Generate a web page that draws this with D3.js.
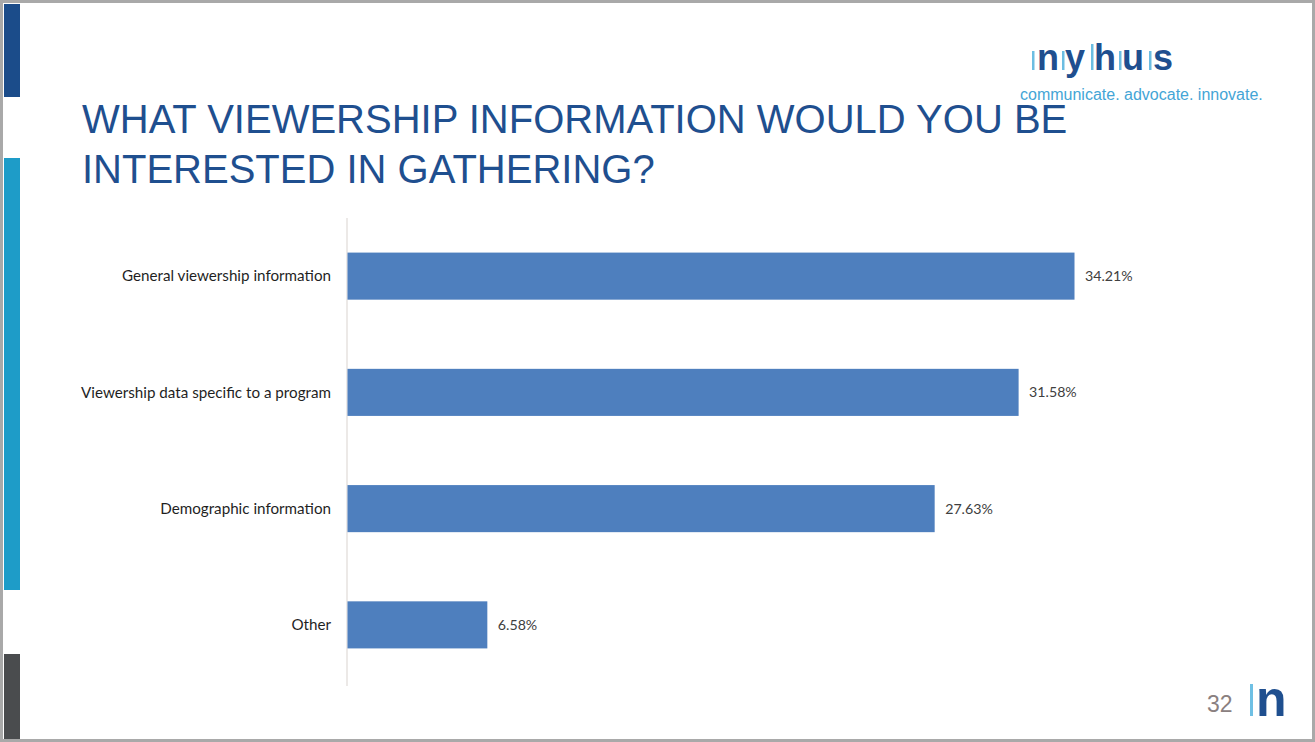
<!DOCTYPE html>
<html><head><meta charset="utf-8">
<script src="https://cdn.jsdelivr.net/npm/d3@7"></script>
<style>html,body{margin:0;padding:0;background:#fff;}svg{display:block;}</style>
</head><body>
<script>
const categories = ["General viewership information","Viewership data specific to a program","Demographic information","Other"];
const values = [34.21, 31.58, 27.63, 6.58];
const valueLabels = ["34.21%","31.58%","27.63%","6.58%"];
const titleLines = ["WHAT VIEWERSHIP INFORMATION WOULD YOU BE","INTERESTED IN GATHERING?"];

const W = 1315, H = 742;
const svg = d3.select("body").append("svg").attr("width", W).attr("height", H);

svg.append("rect").attr("x",0).attr("y",0).attr("width",W).attr("height",H).attr("fill","#fff");
svg.append("rect").attr("x",1.5).attr("y",1.5).attr("width",W-3).attr("height",H-3)
  .attr("fill","none").attr("stroke","#a9a9a9").attr("stroke-width",3);

svg.append("rect").attr("x",4).attr("y",4).attr("width",16).attr("height",93).attr("fill","#1b4c8a");
svg.append("rect").attr("x",4).attr("y",158).attr("width",16).attr("height",432).attr("fill","#1e9cc8");
svg.append("rect").attr("x",4).attr("y",654).attr("width",16).attr("height",85).attr("fill","#4a4c4e");

svg.selectAll("text.title").data(titleLines).join("text")
  .attr("class","title")
  .attr("x",82).attr("y",(d,i)=>133+i*50)
  .attr("font-family","Liberation Sans, Arial, sans-serif")
  .attr("font-size",40).attr("fill","#1f4f8f")
  .text(d=>d);

// logo
const letters = ["n","y","h","u","s"];
const lx = [1037, 1065, 1094, 1122, 1153];
svg.selectAll("text.logo").data(letters).join("text")
  .attr("class","logo").attr("x",(d,i)=>lx[i]).attr("y",70)
  .attr("font-family","Liberation Sans, Arial, sans-serif").attr("font-weight","bold")
  .attr("font-size",36).attr("fill","#1f4f8f").text(d=>d);
[1032, 1062, 1091, 1119, 1149].forEach((x,i)=>{
  svg.append("rect").attr("x",x).attr("y",i===2?44:51).attr("width",2.5).attr("height",i===2?26:19).attr("fill","#6cbde2");
});
svg.append("text").attr("x",1020).attr("y",100)
  .attr("font-family","Liberation Sans, Arial, sans-serif").attr("font-size",16)
  .attr("fill","#44a5d6").text("communicate. advocate. innovate.");

svg.append("text").attr("x",1207).attr("y",712)
  .attr("font-family","Liberation Sans, Arial, sans-serif").attr("font-size",23)
  .attr("fill","#8a8080").text("32");
svg.append("rect").attr("x",1250).attr("y",684).attr("width",3).attr("height",32).attr("fill","#6fc0e4");
svg.append("text").attr("x",1256).attr("y",716)
  .attr("font-family","Liberation Sans, Arial, sans-serif").attr("font-weight","bold")
  .attr("font-size",50).attr("fill","#1f4f8f").text("n");

const x = d3.scaleLinear().domain([0, 34.21]).range([347, 1074]);
const y = d3.scaleBand().domain(categories).range([218, 683]).paddingInner(0.595).paddingOuter(0.2975);

svg.append("line").attr("x1",347).attr("x2",347).attr("y1",218).attr("y2",686)
  .attr("stroke","#d9d3cf").attr("stroke-width",1);

svg.selectAll("rect.bar").data(values).join("rect")
  .attr("class","bar")
  .attr("x",x(0)+0.5).attr("y",(d,i)=>y(categories[i]))
  .attr("width",d=>x(d)-x(0)).attr("height",y.bandwidth())
  .attr("fill","#4e7fbe");

svg.selectAll("text.cat").data(categories).join("text")
  .attr("class","cat")
  .attr("x",331).attr("y",d=>y(d)+y.bandwidth()/2)
  .attr("dy","0.35em").attr("text-anchor","end")
  .attr("font-family","Lato, Carlito, sans-serif").attr("font-size",15.2)
  .attr("fill","#1f1f1f").text(d=>d);

svg.selectAll("text.val").data(values).join("text")
  .attr("class","val")
  .attr("x",d=>x(d)+11).attr("y",(d,i)=>y(categories[i])+y.bandwidth()/2)
  .attr("dy","0.35em")
  .attr("font-family","Lato, Carlito, sans-serif").attr("font-size",14.2)
  .attr("fill","#404040").text((d,i)=>valueLabels[i]);
</script>
</body></html>
